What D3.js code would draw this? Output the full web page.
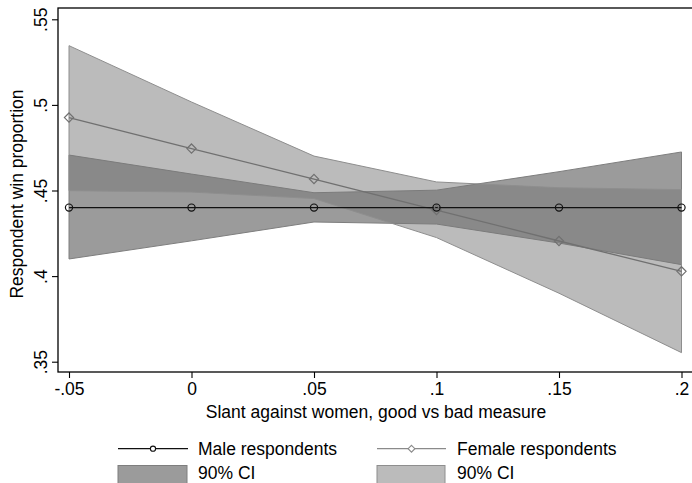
<!DOCTYPE html>
<html>
<head>
<meta charset="utf-8">
<script src="https://cdn.jsdelivr.net/npm/d3@7"></script>
<style>
  html, body { margin: 0; padding: 0; background: #fff; }
  svg { display: block; }
  text { font-family: "Liberation Sans", Arial, Helvetica, sans-serif; fill: #000; }
</style>
</head>
<body>
<svg id="chart" width="692" height="483"></svg>
<script>
// ---- data ----
const slant = [-0.05, 0, 0.05, 0.1, 0.15, 0.2];
const maleEst = [0.440, 0.440, 0.440, 0.440, 0.440, 0.440];
const maleLo  = [0.410, 0.4206, 0.4316, 0.4304, 0.4193, 0.4067];
const maleHi  = [0.4707, 0.4596, 0.4487, 0.4502, 0.4610, 0.4725];
const femEst  = [0.4926, 0.4745, 0.4567, 0.4386, 0.4205, 0.4028];
const femLo   = [0.4499, 0.4491, 0.4453, 0.4225, 0.3900, 0.3553];
const femHi   = [0.5346, 0.5017, 0.4701, 0.4550, 0.4516, 0.4505];
const xTicks = [-0.05, 0, 0.05, 0.1, 0.15, 0.2];
const xTickLabels = ["-.05", "0", ".05", ".1", ".15", ".2"];
const yTicks = [0.35, 0.4, 0.45, 0.5, 0.55];
const yTickLabels = [".35", ".4", ".45", ".5", ".55"];
const legendLabels = ["Male respondents", "Female respondents", "90% CI", "90% CI"];

// ---- layout ----
const svg = d3.select("#chart");
const plotL = 58, plotR = 693, plotT = 8, plotB = 372;
const x = d3.scaleLinear().domain([-0.05, 0.2]).range([69, 681.5]);
const y = d3.scaleLinear().domain([0.35, 0.55]).range([361.7, 19.3]);
const FS = 17.5;

const male = slant.map((s, i) => ({x: s, e: maleEst[i], lo: maleLo[i], hi: maleHi[i]}));
const fem  = slant.map((s, i) => ({x: s, e: femEst[i], lo: femLo[i], hi: femHi[i]}));

const area = d3.area().x(d => x(d.x)).y0(d => y(d.lo)).y1(d => y(d.hi));
const line = d3.line().x(d => x(d.x)).y(d => y(d.e));

const maleCIFill = "#9b9b9b", maleCIStroke = "#7e7e7e";
const femCIFill = "rgb(120,120,120)", femCIOpacity = 0.5, femCIStroke = "#8e8e8e";
const maleColor = "#111", femColor = "#707070";

// CI areas
svg.append("path").datum(male).attr("d", area)
  .attr("fill", maleCIFill).attr("stroke", maleCIStroke).attr("stroke-width", 1);
svg.append("path").datum(fem).attr("d", area)
  .attr("fill", femCIFill).attr("fill-opacity", femCIOpacity)
  .attr("stroke", femCIStroke).attr("stroke-width", 1);

// lines
svg.append("path").datum(fem).attr("d", line)
  .attr("fill", "none").attr("stroke", femColor).attr("stroke-width", 1.3);
svg.append("path").datum(male).attr("d", line)
  .attr("fill", "none").attr("stroke", maleColor).attr("stroke-width", 1.3);

// markers
const diamond = (cx, cy, r) => `M${cx},${cy - r}L${cx + r},${cy}L${cx},${cy + r}L${cx - r},${cy}Z`;
svg.append("g").selectAll("path").data(fem).join("path")
  .attr("d", d => diamond(x(d.x), y(d.e), 4.6))
  .attr("fill", "none").attr("stroke", femColor).attr("stroke-width", 1.2);
svg.append("g").selectAll("circle").data(male).join("circle")
  .attr("cx", d => x(d.x)).attr("cy", d => y(d.e)).attr("r", 3.6)
  .attr("fill", "none").attr("stroke", maleColor).attr("stroke-width", 1.2);

// frame
svg.append("rect").attr("x", plotL).attr("y", plotT)
  .attr("width", plotR - plotL).attr("height", plotB - plotT)
  .attr("fill", "none").attr("stroke", "#000").attr("stroke-width", 1.3);

// x axis
const xAxis = d3.axisBottom(x).tickValues(xTicks)
  .tickFormat((d, i) => xTickLabels[i]).tickSize(6).tickPadding(5);
const gx = svg.append("g").attr("transform", `translate(0,${plotB})`).call(xAxis);
gx.select(".domain").remove();
gx.selectAll(".tick line").attr("stroke", "#000").attr("stroke-width", 1.1);
gx.selectAll(".tick text").attr("font-size", FS).attr("fill", "#000")
  .attr("font-family", '"Liberation Sans", Arial, Helvetica, sans-serif');

// y axis
const yAxis = d3.axisLeft(y).tickValues(yTicks)
  .tickFormat((d, i) => yTickLabels[i]).tickSize(6).tickPadding(0);
const gy = svg.append("g").attr("transform", `translate(${plotL},0)`).call(yAxis);
gy.select(".domain").remove();
gy.selectAll(".tick line").attr("stroke", "#000").attr("stroke-width", 1.1);
gy.selectAll(".tick text")
  .attr("font-size", FS).attr("fill", "#000")
  .attr("font-family", '"Liberation Sans", Arial, Helvetica, sans-serif')
  .attr("x", null).attr("dy", null)
  .attr("text-anchor", "middle")
  .attr("transform", "translate(-11,0) rotate(-90)");

// axis titles
svg.append("text").attr("x", 376).attr("y", 418)
  .attr("text-anchor", "middle").attr("font-size", FS)
  .text("Slant against women, good vs bad measure");
svg.append("text")
  .attr("transform", "translate(23,194) rotate(-90)")
  .attr("text-anchor", "middle").attr("font-size", FS)
  .text("Respondent win proportion");

// legend
const leg = svg.append("g");
const cols = [118, 377];
const row1 = 448.7, row2Top = 465.5;
// male line key
leg.append("line").attr("x1", cols[0]).attr("x2", cols[0] + 70)
  .attr("y1", row1).attr("y2", row1).attr("stroke", maleColor).attr("stroke-width", 1.3);
leg.append("circle").attr("cx", cols[0] + 35).attr("cy", row1).attr("r", 2.6)
  .attr("fill", "#fff").attr("stroke", maleColor).attr("stroke-width", 1.1);
// female line key
leg.append("line").attr("x1", cols[1]).attr("x2", cols[1] + 69)
  .attr("y1", row1).attr("y2", row1).attr("stroke", "#8a8a8a").attr("stroke-width", 1.3);
leg.append("path").attr("d", diamond(cols[1] + 34.5, row1, 3.4))
  .attr("fill", "#fff").attr("stroke", "#8a8a8a").attr("stroke-width", 1.1);
// swatches
leg.append("rect").attr("x", cols[0]).attr("y", row2Top).attr("width", 69).attr("height", 22)
  .attr("fill", maleCIFill).attr("stroke", maleCIStroke).attr("stroke-width", 1);
leg.append("rect").attr("x", cols[1]).attr("y", row2Top).attr("width", 68).attr("height", 22)
  .attr("fill", femCIFill).attr("fill-opacity", femCIOpacity)
  .attr("stroke", femCIStroke).attr("stroke-width", 1);
// labels
const labelPos = [[cols[0] + 80, 454.5], [cols[1] + 80, 454.5], [cols[0] + 80, 478.5], [cols[1] + 80, 478.5]];
legendLabels.forEach((t, i) => {
  leg.append("text").attr("x", labelPos[i][0]).attr("y", labelPos[i][1])
    .attr("font-size", FS).text(t);
});
</script>
</body>
</html>
